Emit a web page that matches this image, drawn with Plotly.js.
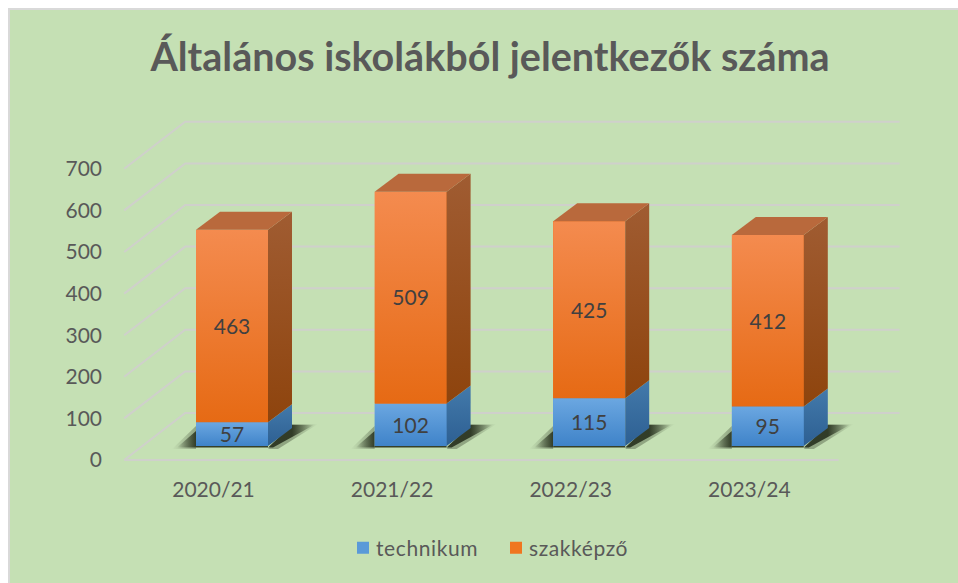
<!DOCTYPE html>
<html><head><meta charset="utf-8">
<script src="https://cdn.plot.ly/plotly-3.0.1.min.js"></script>
<style>
html,body{margin:0;padding:0;background:#fff;overflow:hidden}
#bg{position:absolute;left:8px;top:8px;width:950px;height:575px;box-sizing:border-box;background:#c5e0b4;border-top:2px solid #d9d9d9;border-left:2px solid #d9d9d9}
#chart{position:absolute;left:0;top:0;width:958px;height:583px}
.legendtext{letter-spacing:.6px}
</style></head><body><div id="bg"></div><div id="chart"></div>
<script>
const categories = ['2020/21','2021/22','2022/23','2023/24'];
const technikum = [57,102,115,95];
const szakkepzo = [463,509,425,412];
const yTicks = [0,100,200,300,400,500,600,700];

// pixel geometry of the oblique projection
const L=103,R=935,T=100,B=475;
const U=178.6, K=0.416;                // px per category, px per value
const labelX=213.5, barX=232, labelY=460, barY=446;
const wallDX=61/U, wallDY=47/K;        // wall depth
const barDX=24/U, barDY=18/K;          // bar depth
const BW=72/U, HB=BW/2;
const FONT='Lato, "Open Sans", sans-serif';
const xs=categories.map((_,i)=>i);
const traces=[];
const skip={hoverinfo:'skip',showlegend:false};
const GRID='#cfd0cb';

yTicks.forEach(v=>{
  traces.push({type:'scatter',mode:'lines',x:[-0.5,-0.5+wallDX,3.5+wallDX],y:[v,v+wallDY,v+wallDY],
    line:{color:GRID,width:2},...skip});
});
traces.push({type:'scatter',mode:'lines',x:[-0.5,3.5],y:[0,0],line:{color:GRID,width:2},...skip});

const bar2={xaxis:'x2',yaxis:'y2'};
traces.push({type:'bar',name:'technikum',x:xs,y:technikum,width:BW,marker:{color:'#5a9ad8',line:{width:0}},...bar2});
traces.push({type:'bar',name:'szakképző',x:xs,y:szakkepzo,width:BW,marker:{color:'#f0761f',line:{width:0}},...bar2});

function poly(px,py,grad){
  const p={type:'scatter',mode:'lines',fill:'toself',x:px,y:py,line:{width:0,color:'rgba(0,0,0,0)'},...skip,...bar2};
  if(typeof grad==='string') p.fillcolor=grad; else p.fillgradient=grad;
  return p;
}
const vgrad=(lo,hi,cLo,cHi)=>({type:'vertical',start:lo,stop:hi,colorscale:[[0,cLo],[1,cHi]]});
const hgrad=(a,b,cA,cB)=>({type:'horizontal',start:a,stop:b,colorscale:[[0,cA],[1,cB]]});
const SH0='rgba(45,55,35,0)', SH1='rgba(45,55,35,0.95)', SH2='rgba(45,55,35,0.35)';

xs.forEach(i=>{
  const a=technikum[i], b=a+szakkepzo[i];
  const xl=i-HB, xr=i+HB, xb=xr+barDX;
  // soft outer shadow
  traces.push(poly([xl-24/U,xl,xl],[-3/K,-3/K,20/K],hgrad(xl-24/U,xl,SH0,SH2)));
  traces.push(poly([xr,xr+10/U,xb+26/U,xb],[-3/K,-3/K,barDY+4/K,barDY+4/K],hgrad(xb,xb+26/U,SH2,SH0)));
  // core shadow
  traces.push(poly([xl-19/U,xl,xl],[-1.5/K,-1.5/K,15/K],hgrad(xl-19/U,xl,SH0,SH1)));
  traces.push(poly([xr,xr+5/U,xb+22/U,xb],[-1.5/K,-1.5/K,barDY+3/K,barDY+3/K],hgrad(xb,xb+22/U,SH1,SH0)));
  traces.push(poly([xl,xr,xr,xl],[-1.5/K,-1.5/K,0,0],SH1));
  // fronts
  traces.push(poly([xl,xr,xr,xl],[0,0,a,a],vgrad(0,a,'#3f83c9','#6ba7e1')));
  traces.push(poly([xl,xr,xr,xl],[a,a,b,b],vgrad(a,b,'#e66a14','#f48b4f')));
  // sides
  traces.push(poly([xr,xb,xb,xr],[0,barDY,a+barDY,a],vgrad(0,a+barDY,'#2d5f92','#437aab')));
  traces.push(poly([xr,xb,xb,xr],[a,a+barDY,b+barDY,b],vgrad(a,b+barDY,'#8e440d','#a05c32')));
  // top
  traces.push(poly([xl,xr,xb,xl+barDX],[b,b,b+barDY,b+barDY],'#b9693c'));
});
const nudge=2.5/K;
const labelFont={family:FONT,size:21,color:'#404040'};
traces.push({type:'scatter',mode:'text',x:xs,y:technikum.map(v=>v/2-nudge),text:technikum.map(String),
  textposition:'middle center',textfont:labelFont,...skip,...bar2});
traces.push({type:'scatter',mode:'text',x:xs,y:szakkepzo.map((v,i)=>technikum[i]+v/2-nudge),text:szakkepzo.map(String),
  textposition:'middle center',textfont:labelFont,...skip,...bar2});

const layout={
  width:958,height:583,
  paper_bgcolor:'rgba(0,0,0,0)',plot_bgcolor:'rgba(0,0,0,0)',
  margin:{l:L,r:958-R,t:T,b:583-B,pad:0},
  font:{family:FONT,color:'#595959'},
  barmode:'stack',bargap:0,
  title:{text:'<b>Általános iskolákból jelentkezők száma</b>',font:{family:FONT,size:39.5,color:'#595959'},
    x:490/958,xanchor:'center',y:1-57/583,yanchor:'middle'},
  xaxis:{type:'linear',range:[(L-labelX)/U,(R-labelX)/U],tickvals:xs,ticktext:categories,
    showgrid:false,zeroline:false,showline:false,ticks:'',tickfont:{family:FONT,size:21,color:'#595959'}},
  yaxis:{type:'linear',range:[(labelY-B)/K,(labelY-T)/K],tickvals:yTicks,
    showgrid:false,zeroline:false,showline:false,ticks:'',tickfont:{family:FONT,size:21,color:'#595959'}},
  xaxis2:{type:'linear',overlaying:'x',range:[(L-barX)/U,(R-barX)/U],visible:false},
  yaxis2:{type:'linear',overlaying:'y',range:[(barY-B)/K,(barY-T)/K],visible:false},
  showlegend:true,
  legend:{orientation:'h',x:(336-L)/(R-L),xanchor:'left',y:(B-548)/(B-T),yanchor:'middle',bgcolor:'rgba(0,0,0,0)',
    entrywidth:108,entrywidthmode:'pixels',
    font:{family:FONT,size:21,color:'#595959'},traceorder:'normal'}
};
Plotly.newPlot('chart',traces,layout,{staticPlot:true,displayModeBar:false}).then(()=>{
  document.querySelectorAll('.legendsymbols').forEach(g=>g.setAttribute('transform','translate(7,0)'));
});
</script></body></html>
